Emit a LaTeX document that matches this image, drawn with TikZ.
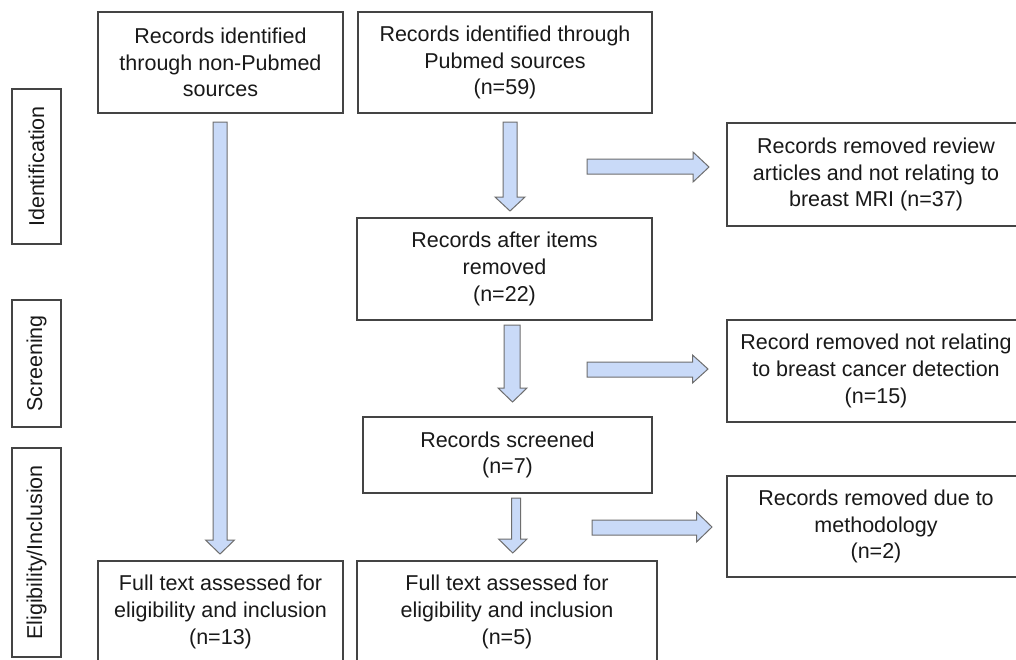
\documentclass[tikz,border=0pt]{standalone}
\usepackage{fontspec}
\setmainfont{Liberation Sans}
\definecolor{boxline}{HTML}{444444}
\definecolor{arrfill}{HTML}{C9DAF8}
\definecolor{arrline}{HTML}{6E6E6E}
\tikzset{
  box/.style={draw=boxline, line width=1.3pt, rectangle, inner sep=0pt, align=center,
    font=\fontsize{21.5}{26.8}\selectfont, text=black!90},
  sidebox/.style={box, rotate=90, minimum width=#1, minimum height=49pt},
  blockarrow/.style={draw=arrline, fill=arrfill, line width=1pt, line join=miter}
}
\newcommand\dnarrow[6]{% x-left shaft, x-right shaft, top, head left, head right, tip, head base y
  \draw[blockarrow] (#1,#3) -- (#2,#3) -- (#2,#6-14) -- (#5,#6-14) -- ({(#4+#5)/2},#6) -- (#4,#6-14) -- (#1,#6-14) -- cycle;}
\newcommand\rtarrow[7]{% x-left, head base x, tip x, shaft top, shaft bottom, head top, head bottom
  \draw[blockarrow] (#1,#4) -- (#2,#4) -- (#2,#6) -- (#3,{(#6+#7)/2}) -- (#2,#7) -- (#2,#5) -- (#1,#5) -- cycle;}
\begin{document}
\begin{tikzpicture}[x=1pt,y=-1pt]
\useasboundingbox[fill=white] (0,0) rectangle (1016,659);
\clip (0,0) rectangle (1016,659);

% side labels
\node[sidebox=155pt] (S1) at (36.5,166.5) {Identification};
\node[sidebox=127pt] (S2) at (36.5,363.5) {Screening};
\node[sidebox=209pt] (S3) at (36.5,552.5) {Eligibility/Inclusion};

% main boxes
\node[box, minimum width=245pt, minimum height=101pt] (A) at (220.5,62.5)
  {Records identified\\through non-Pubmed\\sources};
\node[box, minimum width=294pt, minimum height=101pt] (B) at (505,62.5)
  {Records identified through\\Pubmed sources\\(n=59)};
\node[box, minimum width=298pt, minimum height=103pt] (C) at (876,174.5)
  {Records removed review\\articles and not relating to\\breast MRI (n=37)};
\node[box, minimum width=295pt, minimum height=102pt] (D) at (504.5,269)
  {Records after items\\removed\\(n=22)};
\node[box, minimum width=298pt, minimum height=102pt] (E) at (876,371)
  {Record removed not relating\\to breast cancer detection\\(n=15)};
\node[box, minimum width=289pt, minimum height=76pt] (F) at (507.5,455)
  {Records screened\\(n=7)};
\node[box, minimum width=298pt, minimum height=101pt] (G) at (876,526.5)
  {Records removed due to\\methodology\\(n=2)};
\node[box, minimum width=245pt, minimum height=102pt] (H) at (220.5,612)
  {Full text assessed for\\eligibility and inclusion\\(n=13)};
\node[box, minimum width=300pt, minimum height=102pt] (I) at (507,612)
  {Full text assessed for\\eligibility and inclusion\\(n=5)};

% down block arrows
\dnarrow{213}{227}{122}{205.5}{234.5}{554}
\dnarrow{503}{517}{122}{495}{525}{211}
\dnarrow{504}{520}{325}{498}{527}{402}
\dnarrow{511.5}{520.5}{498}{498.5}{527}{553}

% right block arrows
\rtarrow{587}{693}{709}{159}{174}{152}{182}
\rtarrow{587}{692.5}{708}{362}{377}{355}{383}
\rtarrow{592}{696.5}{712}{520}{535}{512}{542}
\end{tikzpicture}
\end{document}
